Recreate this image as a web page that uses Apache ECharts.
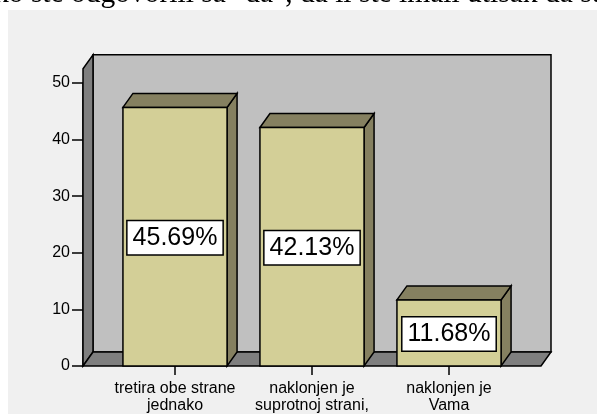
<!DOCTYPE html>
<html>
<head>
<meta charset="utf-8">
<script src="https://cdn.jsdelivr.net/npm/echarts@6/dist/echarts.min.js"></script>
<style>
  html, body { margin: 0; padding: 0; background: #ffffff; }
  #chart { width: 597px; height: 414px; }
</style>
</head>
<body>
<div id="chart"></div>
<script>
// data
var categories = ['tretira obe strane\njednako', 'naklonjen je\nsuprotnoj strani,', 'naklonjen je\nVama'];
var percentValues = [45.69, 42.13, 11.68];
var yMin = 0, yMax = 50, yStep = 10;
var titleText = 'ko ste odgovorili sa "da", da li ste imali utisak da sudija';

var frontColor = '#d3cf97';
var darkColor = '#858060';
var wallColor = '#c0c0c0';
var sideWallColor = '#7f7f7f';
var dx = 10, dy = 14;

var myChart = echarts.init(document.getElementById('chart'));

function renderFrame(params, api) {
    var cs = params.coordSys;
    var gx0 = cs.x - 23.5;
    var gx1 = cs.x + cs.width + 23.5;
    var gy0 = cs.y + cs.height;
    var topY = api.coord([0, 52.5])[1];
    var line = { stroke: '#000', lineWidth: 1.5 };
    return {
        type: 'group',
        children: [
            { type: 'rect', shape: { x: gx0 + dx, y: topY - dy, width: gx1 - gx0, height: gy0 - topY },
              style: Object.assign({ fill: wallColor }, line) },
            { type: 'polygon', shape: { points: [[gx0, gy0], [gx0 + dx, gy0 - dy], [gx0 + dx, topY - dy], [gx0, topY]] },
              style: Object.assign({ fill: sideWallColor }, line) },
            { type: 'polygon', shape: { points: [[gx0, gy0], [gx1, gy0], [gx1 + dx, gy0 - dy], [gx0 + dx, gy0 - dy]] },
              style: Object.assign({ fill: sideWallColor }, line) }
        ]
    };
}

function renderBar(params, api) {
    var i = api.value(0), v = api.value(1);
    var base = api.coord([i, 0]);
    var top = api.coord([i, v]);
    var w = api.size([1, 0])[0] * 0.76;
    var x0 = base[0] - w / 2, x1 = base[0] + w / 2, y0 = base[1], y1 = top[1];
    var line = { stroke: '#000', lineWidth: 1.5 };
    return {
        type: 'group',
        children: [
            { type: 'polygon', shape: { points: [[x1, y1], [x1 + dx, y1 - dy], [x1 + dx, y0 - dy], [x1, y0]] },
              style: Object.assign({ fill: darkColor }, line) },
            { type: 'polygon', shape: { points: [[x0, y1], [x0 + dx, y1 - dy], [x1 + dx, y1 - dy], [x1, y1]] },
              style: Object.assign({ fill: darkColor }, line) },
            { type: 'rect', shape: { x: x0, y: y1, width: w, height: y0 - y1 },
              style: Object.assign({ fill: frontColor }, line) },
            { type: 'text', x: base[0], y: (y0 + y1) / 2 + 1,
              style: {
                  text: v.toFixed(2) + '%',
                  font: '25px "Liberation Sans", Arial, sans-serif',
                  fill: '#000',
                  align: 'center',
                  verticalAlign: 'middle',
                  backgroundColor: '#ffffff',
                  borderColor: '#000',
                  borderWidth: 1.5,
                  padding: [5, 5, 3, 5]
              } }
        ]
    };
}

var option = {
    animation: false,
    graphic: [
        { type: 'rect', z: -10, shape: { x: 8, y: 10, width: 600, height: 420 }, style: { fill: '#f0f0f0' } },
        { type: 'text', z: -5, x: -6, y: 9,
          style: { text: titleText, font: '29.5px "Liberation Serif", "Times New Roman", serif', fill: '#000', verticalAlign: 'bottom' } }
    ],
    grid: { left: 106.5, right: 79.5, top: 83, bottom: 46, containLabel: false },
    xAxis: {
        type: 'category',
        data: categories,
        axisLine: { show: false },
        axisTick: { show: true, alignWithLabel: true, length: 9, lineStyle: { color: '#000', width: 1.5 } },
        axisLabel: { color: '#000', fontSize: 16, lineHeight: 17, margin: 14, interval: 0, fontFamily: 'Liberation Sans' }
    },
    yAxis: {
        type: 'value',
        min: yMin, max: yMax, interval: yStep,
        offset: 23.5,
        splitLine: { show: false },
        axisLine: { show: true, lineStyle: { color: '#000', width: 1.5 } },
        axisTick: { show: true, length: 11, lineStyle: { color: '#000', width: 1.5 } },
        axisLabel: { color: '#000', fontSize: 16, margin: 13, fontFamily: 'Liberation Sans' }
    },
    series: [
        { type: 'custom', name: 'frame', z: 1, silent: true, renderItem: renderFrame, data: [[0, 0]] },
        { type: 'custom', name: 'percent', z: 2, silent: true, renderItem: renderBar,
          data: percentValues.map(function (v, i) { return [i, v]; }) }
    ]
};

myChart.setOption(option);
</script>
</body>
</html>
